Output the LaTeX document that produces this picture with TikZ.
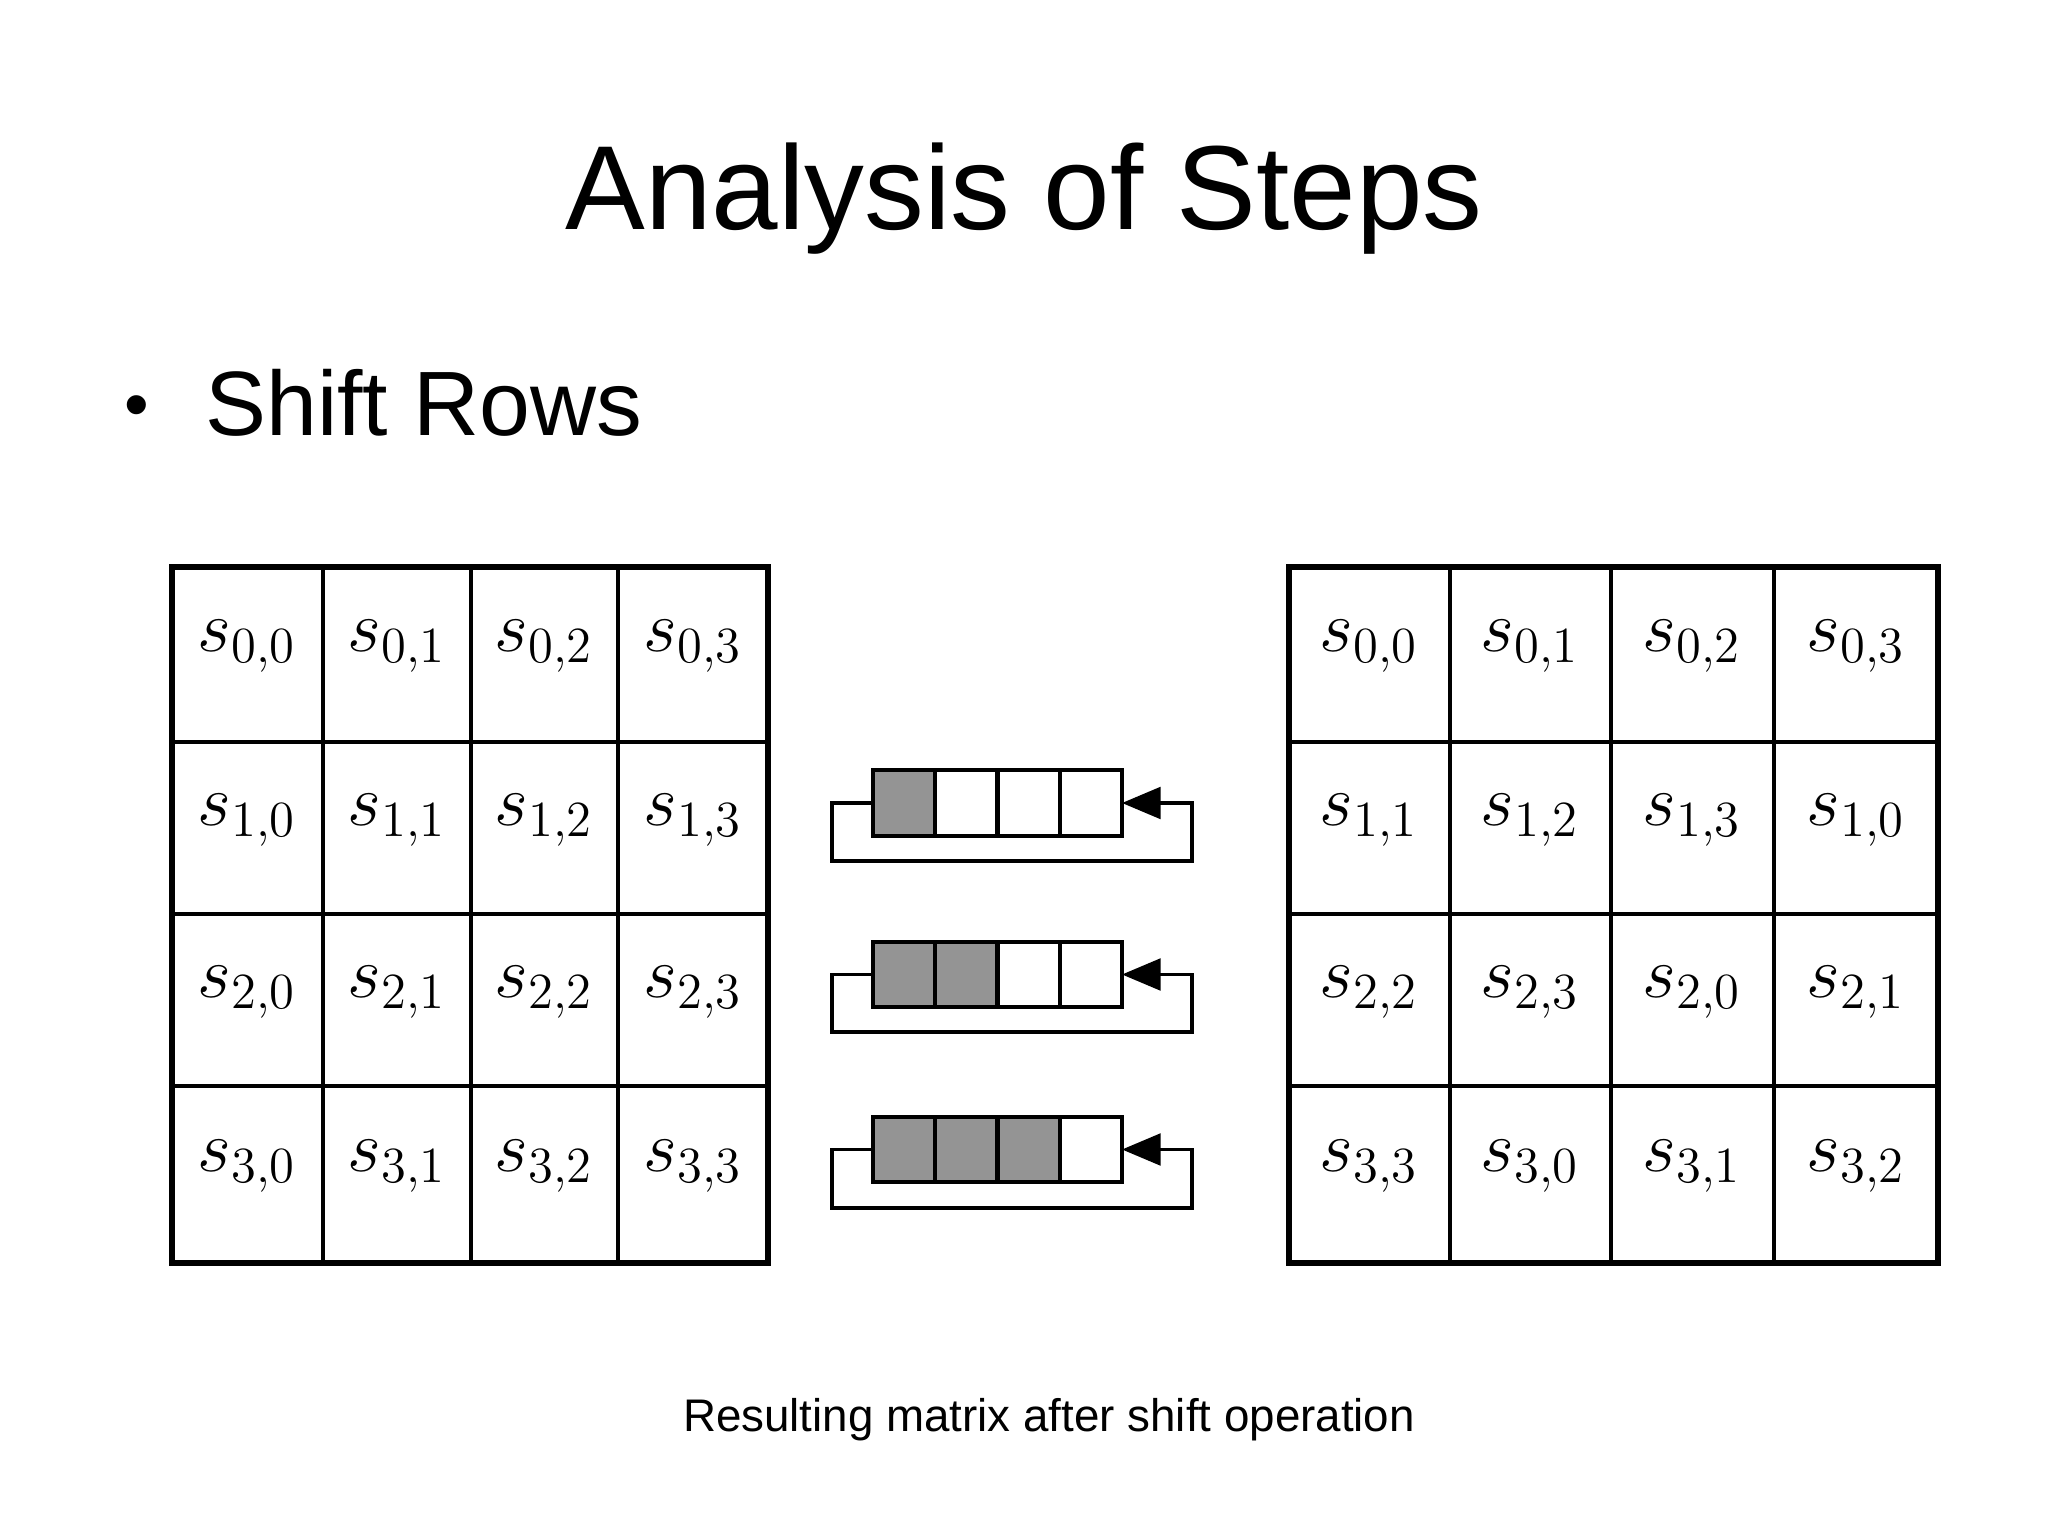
\documentclass[tikz,border=0pt]{standalone}
\usepackage{fontspec}
\setmainfont{Liberation Sans}
\usetikzlibrary{arrows.meta}
\begin{document}
\begin{tikzpicture}[x=0.01cm,y=-0.01cm,
  cellt/.style={font=\fontsize{20}{24}\selectfont},
  thin grid/.style={line width=1.1pt},
  thick grid/.style={line width=1.6pt},
  sb/.style={line width=1pt},
  tip/.style={-{Triangle[length=11pt,width=9pt]}}]
\useasboundingbox (0,0) rectangle (2048,1534);
\node[anchor=base,font=\fontsize{34}{40}\selectfont] (title) at (1024,230) {Analysis of Steps};
\node[anchor=base west,font=\fontsize{26}{30}\selectfont] (bul) at (193,436) {Shift Rows};
\node[font=\fontsize{20}{24}\selectfont] (dot) at (137,412) {\textbullet};
\node[anchor=base,font=\fontsize{13}{16}\selectfont] (cap) at (1049,1431) {Resulting matrix after shift operation};
% left matrix
\def\ry{{567,742,914,1086,1263}}
\foreach \x in {323,471,618} \draw[thin grid] (\x,567) -- (\x,1263);
\foreach \y in {742,914,1086} \draw[thin grid] (172,\y) -- (768,\y);
\draw[thick grid] (172,567) rectangle (768,1263);
\foreach \x in {1450,1611,1774} \draw[thin grid] (\x,567) -- (\x,1263);
\foreach \y in {742,914,1086} \draw[thin grid] (1289,\y) -- (1938,\y);
\draw[thick grid] (1289,567) rectangle (1938,1263);
\foreach \r/\yc in {0/654,1/828,2/1000,3/1174}{
  \foreach \c/\xc in {0/247,1/397,2/544,3/693}{
    \node[cellt] (L\r\c) at (\xc,\yc-8) {$s_{\r,\c}$};
  }
}
\foreach \r/\yc/\a/\b/\cc/\d in {0/654/0/1/2/3,1/828/1/2/3/0,2/1000/2/3/0/1,3/1174/3/0/1/2}{
  \node[cellt] (R\r0) at (1369,\yc-8) {$s_{\r,\a}$};
  \node[cellt] (R\r1) at (1530,\yc-8) {$s_{\r,\b}$};
  \node[cellt] (R\r2) at (1692,\yc-8) {$s_{\r,\cc}$};
  \node[cellt] (R\r3) at (1856,\yc-8) {$s_{\r,\d}$};
}
% shift boxes
\foreach \t/\bo/\lb/\n in {770/836/861/1,942/1007/1032/2,1117/1182/1208/3}{
  \pgfmathsetmacro\m{(\t+\bo)/2}
  \foreach \i/\xa in {1/873,2/935,3/998,4/1060}{
    \pgfmathsetmacro\xb{\xa+62}
    \ifnum\i>\n \def\fc{white}\else\def\fc{black!42}\fi
    \draw[sb,fill=\fc] (\xa,\t) rectangle (\xb,\bo);
  }
  \coordinate (p\n) at (873,\m);
  \coordinate (q\n) at (1122,\m);
  \draw[sb,tip] (p\n) -- (832,\m) -- (832,\lb) -- (1192,\lb) -- (1192,\m) -- (q\n);
}
\end{tikzpicture}
\end{document}
